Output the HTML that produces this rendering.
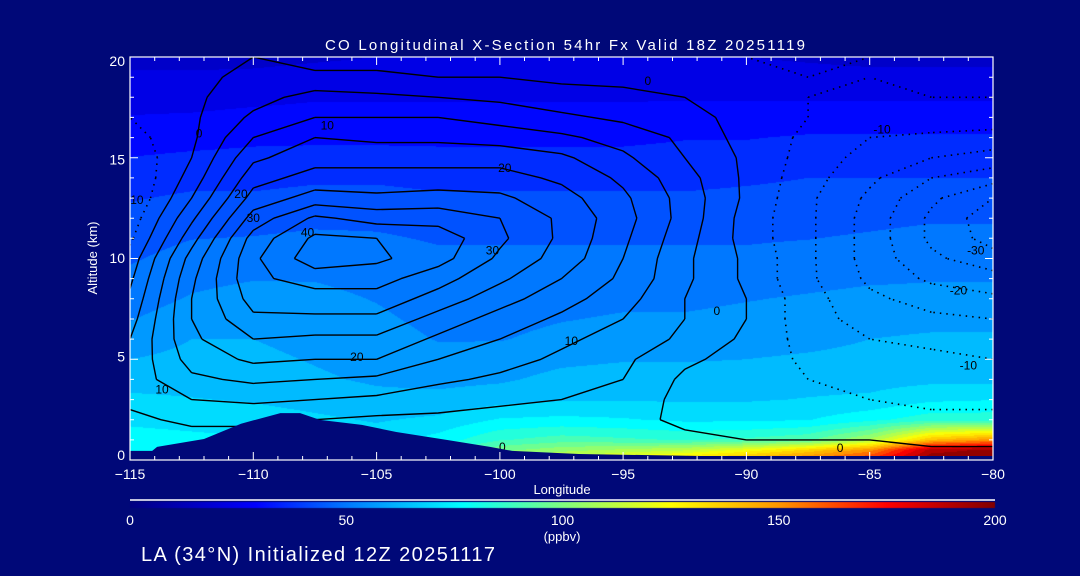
<!DOCTYPE html>
<html><head><meta charset="utf-8">
<style>
html,body{margin:0;padding:0;background:#000878;}
#wrap{position:relative;width:1080px;height:576px;overflow:hidden;background:#000878;font-family:"Liberation Sans",sans-serif;}
canvas{position:absolute;left:0;top:0;}
svg{position:absolute;left:0;top:0;}
text{font-family:"Liberation Sans",sans-serif;}
</style></head>
<body>
<div id="wrap">
<canvas id="cv" width="1080" height="576"></canvas>
<svg id="sv" width="1080" height="576"></svg>
</div>
<script>
// ---- data ----
const lons = [-115,-112.5,-110,-107.5,-105,-102.5,-100,-97.5,-95,-92.5,-90,-87.5,-85,-82.5,-80];
const fieldAlts = [0,0.5,1,2,3,4,6,8,10,12,14,16,18,20];
const coField = [
 [80,78,76,75,78,90,108,118,128,138,148,158,170,200,200],
 [78,77,76,74,73,82,98,104,108,112,122,135,150,190,195],
 [76,75,74,72,70,76,86,90,88,86,88,92,108,140,150],
 [72,71,70,68,66,68,74,75,74,72,72,73,78,84,84],
 [68,67,66,64,62,62,64,66,66,66,66,67,68,72,73],
 [64,64,63,61,59,58,59,62,63,63,63,64,64,65,65],
 [56,60,60,58,56,53,53,55,56,56,57,58,60,61,61],
 [50,54,56,55,53,50,50,51,52,52,53,54,55,55,55],
 [46,49,50,51,50,48,48,48,48,48,48,49,50,51,51],
 [42,44,44,45,45,44,44,44,44,44,44,44,45,46,46],
 [37,38,38,39,39,38,38,38,38,38,39,40,40,40,40],
 [30,31,32,32,32,32,32,32,32,33,33,34,34,34,34],
 [24,24,25,26,26,26,26,26,26,26,26,26,26,26,26],
 [18,18,18,19,20,20,20,20,20,20,20,19,18,18,18]
];
const diffAlts = [0,1,2,3,4,5,6,7,8,9,10,11,12,13,14,15,16,17,18,19,20];
// columns by longitude (same order as lons), values from alt 0 to alt 20
const diffCols = [
 [1,2,4,6,7,6,5,3,1,-1,-3,-6,-8,-10,-10,-9,-7,-5,-4,-3,-3],
 [1,3,6,10,14,17,19,20,20,19,17,13,9,5,2,0,-1,-1,-1,-1,-2],
 [0,3,6,11,16,21,25,29,32,34,34,32,27,22,18,14,10,6,3,1,0],
 [0,2,5,10,15,20,24,29,33,37,43,41,36,27,22,18,15,10,7,1,-2],
 [0,1,4,9,14,20,24,29,33,37,41,40,33,26,22,18,14,10,6,1,-2],
 [0,1,4,7,11,15,19,23,28,32,37,38,33,27,22,18,14,10,5,0,-2],
 [0,1,3,6,9,12,15,18,22,26,29,31,30,26,22,18,13,8,4,0,-2],
 [0,1,3,5,7,9,11,14,17,20,23,24,24,22,19,16,11,6,2,-1,-2],
 [1,2,3,4,5,6,8,10,12,14,15,16,17,16,14,11,8,4,1,-1,-3],
 [1,2,-2,-2,-1,1,4,5,5,6,6,7,8,8,7,5,4,2,0,-2,-4],
 [1,0,-2,-3,-3,-2,-1,0,0,-1,-1,-2,-2,-1,-1,-1,-2,-2,-3,-4,-5],
 [1,0,-3,-4,-5,-6,-7,-8,-8,-9,-9,-9,-9,-9,-8,-7,-6,-5,-5,-5,-6],
 [2,0,-3,-5,-6,-8,-10,-12,-14,-16,-17,-17,-17,-16,-14,-12,-10,-8,-6,-5,-5],
 [2,-1,-4,-6,-7,-9,-11,-14,-17,-21,-24,-26,-26,-24,-20,-15,-11,-7,-5,-4,-4],
 [2,-1,-4,-6,-8,-10,-12,-15,-19,-23,-28,-32,-33,-30,-23,-17,-12,-7,-5,-4,-4]
];
const contourLevels = [-30,-25,-20,-15,-10,-5,0,5,10,15,20,25,30,35,40];
const terrainLon = [-115,-114.1,-113.9,-112,-110.5,-108.9,-108.1,-107.3,-105.6,-104.2,-102.1,-100.4,-99.5,-96.8,-91.9,-85.8,-80];
const terrainAlt = [0.45,0.45,0.65,1.04,1.8,2.33,2.33,1.99,1.74,1.39,0.99,0.65,0.45,0.3,0.2,0.2,0.2];
const contourLabels = [
 [-107,16.6,"10"],[-110.5,13.2,"20"],[-110,12.0,"30"],[-107.8,11.3,"40"],[-99.8,14.5,"20"],
 [-100.3,10.4,"30"],[-105.8,5.1,"20"],[-97.1,5.9,"10"],[-113.7,3.5,"10"],[-99.9,0.65,"0"],
 [-94,18.8,"0"],[-91.2,7.4,"0"],[-86.2,0.6,"0"],[-112.2,16.2,"0"],[-114.8,12.9,"-10"],
 [-84.5,16.4,"-10"],[-80.7,10.4,"-30"],[-81.4,8.4,"-20"],[-81,4.7,"-10"]
];
const xTicks = [-115,-110,-105,-100,-95,-90,-85,-80];
const yTicks = [0,5,10,15,20];
const cbTicks = [0,50,100,150,200];
// ---- axes ----
const X0=130,X1=993,Y0=460,Y1=57;
const LON0=-115,LON1=-80,ALT0=0,ALT1=20;
const sx=l=>X0+(l-LON0)/(LON1-LON0)*(X1-X0);
const sy=a=>Y0-(a-ALT0)/(ALT1-ALT0)*(Y0-Y1);
const stops=[[0,[0,0,128]],[29,[0,0,255]],[50,[0,120,255]],[77,[0,255,255]],[100,[128,255,128]],[125,[255,255,0]],[150,[255,150,0]],[175,[255,0,0]],[200,[128,0,0]]];
function cmap(v){v=Math.max(0,Math.min(200,v));for(let i=1;i<stops.length;i++){if(v<=stops[i][0]){const a=stops[i-1],b=stops[i];const t=(v-a[0])/(b[0]-a[0]);return [0,1,2].map(k=>Math.round(a[1][k]+(b[1][k]-a[1][k])*t));}}return stops[stops.length-1][1];}
function findIdx(arr,v){for(let i=0;i<arr.length-1;i++){if(v<=arr[i+1])return i;}return arr.length-2;}
function fieldAt(lon,alt){const i=findIdx(lons,lon),j=findIdx(fieldAlts,alt);const tx=(lon-lons[i])/(lons[i+1]-lons[i]);const ty=(alt-fieldAlts[j])/(fieldAlts[j+1]-fieldAlts[j]);const a=coField[j][i],b=coField[j][i+1],c=coField[j+1][i],d=coField[j+1][i+1];return (a*(1-tx)+b*tx)*(1-ty)+(c*(1-tx)+d*tx)*ty;}
// ---- field ----
const cv=document.getElementById('cv');const ctx=cv.getContext('2d');
const img=ctx.createImageData(X1-X0,Y0-Y1);
const step=200/30;
for(let py=0;py<Y0-Y1;py++){const alt=ALT1-(py+0.5)/(Y0-Y1)*(ALT1-ALT0);for(let px=0;px<X1-X0;px++){const lon=LON0+(px+0.5)/(X1-X0)*(LON1-LON0);let v=fieldAt(lon,alt);v=Math.floor(v/step)*step+step/2;const c=cmap(v);const o=(py*(X1-X0)+px)*4;img.data[o]=c[0];img.data[o+1]=c[1];img.data[o+2]=c[2];img.data[o+3]=255;}}
ctx.putImageData(img,X0,Y1);
// colorbar
const cg=ctx.createLinearGradient(130,0,995,0);
stops.forEach(s=>cg.addColorStop(s[0]/200,`rgb(${s[1].join(',')})`));
ctx.fillStyle=cg;ctx.fillRect(130,502,865,6);
// ---- svg ----
const NS="http://www.w3.org/2000/svg";const sv=document.getElementById('sv');
function mk(tag,attrs,parent){const e=document.createElementNS(NS,tag);for(const k in attrs)e.setAttribute(k,attrs[k]);(parent||sv).appendChild(e);return e;}
const clip=mk('clipPath',{id:'pc'});mk('rect',{x:X0,y:Y1,width:X1-X0,height:Y0-Y1},clip);
const cgrp=mk('g',{'clip-path':'url(#pc)'});


function D(i,j){return diffCols[i][j];}
contourLevels.forEach(L=>{
 let d='';
 for(let i=0;i<lons.length-1;i++)for(let j=0;j<diffAlts.length-1;j++){
  const c=[[lons[i],diffAlts[j],D(i,j)],[lons[i+1],diffAlts[j],D(i+1,j)],[lons[i+1],diffAlts[j+1],D(i+1,j+1)],[lons[i],diffAlts[j+1],D(i,j+1)]];
  const pts=[];
  for(let e=0;e<4;e++){const a=c[e],b=c[(e+1)%4];const va=a[2]-L,vb=b[2]-L;if((va<0)!==(vb<0)){const t=va/(va-vb);pts.push([a[0]+(b[0]-a[0])*t,a[1]+(b[1]-a[1])*t]);}}
  const seg=(p,q)=>{d+=`M${sx(p[0]).toFixed(1)},${sy(p[1]).toFixed(1)}L${sx(q[0]).toFixed(1)},${sy(q[1]).toFixed(1)}`;};
  if(pts.length===2)seg(pts[0],pts[1]);
  else if(pts.length===4){const ctr=(c[0][2]+c[1][2]+c[2][2]+c[3][2])/4-L;if((ctr<0)===((c[0][2]-L)<0)){seg(pts[0],pts[3]);seg(pts[1],pts[2]);}else{seg(pts[0],pts[1]);seg(pts[2],pts[3]);}}
 }
 const p=mk('path',{d:d,fill:'none',stroke:'#000','stroke-width':L<0?1.6:1.4,'stroke-dasharray':L<0?'1.5 5':'none','stroke-linecap':'butt'},cgrp);
 
 
});
contourLabels.forEach(l=>{const t=mk('text',{x:sx(l[0]),y:sy(l[1])+4,'font-size':12,fill:'#000','text-anchor':'middle'},cgrp);t.textContent=l[2];
 
 });
// terrain
let tp=`M${sx(LON0)},${Y0}`;terrainLon.forEach((l,k)=>{tp+=`L${sx(l).toFixed(1)},${sy(terrainAlt[k]).toFixed(1)}`;});tp+=`L${sx(LON1)},${Y0}Z`;
const ter=mk('path',{d:tp,fill:'#000878',stroke:'none'});


// frame
const fr=mk('rect',{x:X0,y:Y1,width:X1-X0,height:Y0-Y1,fill:'none',stroke:'#fff','stroke-width':1.2});


let tk='';
for(let l=-115;l<=-80;l++){const len=(l%5===0)?8:4;const x=sx(l).toFixed(1);tk+=`M${x},${Y0}v${-len}M${x},${Y1}v${len}`;}
for(let a=0;a<=20;a++){const len=(a%5===0)?8:4;const y=sy(a).toFixed(1);tk+=`M${X0},${y}h${len}M${X1},${y}h${-len}`;}
const tks=mk('path',{d:tk,stroke:'#fff','stroke-width':1,fill:'none'});


xTicks.forEach(v=>{const t=mk('text',{x:sx(v),y:479,'font-size':14,fill:'#fff','text-anchor':'middle'});t.textContent=(v<0?'\u2212':'')+Math.abs(v);
 
 });
yTicks.forEach(v=>{const t=mk('text',{x:125,y:61+(20-v)/20*394+5,'font-size':14,fill:'#fff','text-anchor':'end'});t.textContent=v;
 
 });
const cbl=mk('line',{x1:130,x2:995,y1:500,y2:500,stroke:'#fff','stroke-width':1.5});


cbTicks.forEach(v=>{const t=mk('text',{x:130+v/200*865,y:525,'font-size':14,fill:'#fff','text-anchor':'middle'});t.textContent=v;
 
 });
</script>
<svg width="1080" height="576" style="position:absolute;left:0;top:0;pointer-events:none">
<text x="325" y="50" font-size="15" fill="#fff" textLength="480" lengthAdjust="spacing">CO Longitudinal X-Section 54hr  Fx Valid 18Z 20251119</text>
<text x="562" y="494" font-size="13" fill="#fff" text-anchor="middle">Longitude</text>
<text x="97" y="258" font-size="13" fill="#fff" text-anchor="middle" transform="rotate(-90 97 258)">Altitude (km)</text>
<text x="562" y="541" font-size="13" fill="#fff" text-anchor="middle">(ppbv)</text>
<text x="141" y="561" font-size="20" fill="#fff" textLength="354" lengthAdjust="spacing">LA (34°N) Initialized 12Z 20251117</text>
</svg>
</body></html>
